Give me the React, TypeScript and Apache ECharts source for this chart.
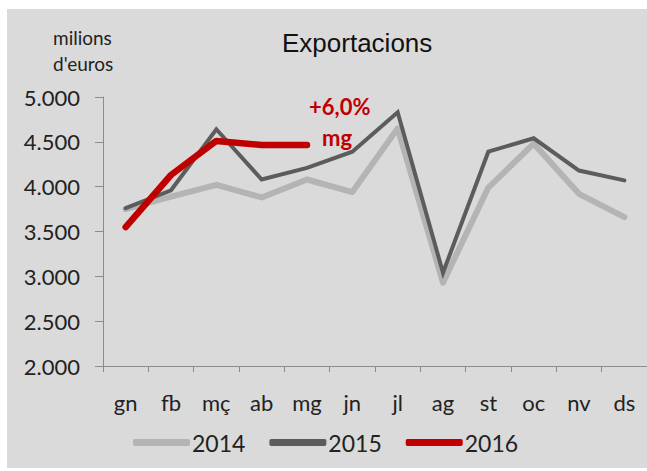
import React, { useEffect, useRef } from "react";
import * as echarts from "echarts";

const months = ["gn", "fb", "mç", "ab", "mg", "jn", "jl", "ag", "st", "oc", "nv", "ds"];
const s2014 = [3750, 3890, 4020, 3880, 4080, 3940, 4650, 2930, 3990, 4480, 3920, 3660];
const s2015 = [3760, 3960, 4640, 4080, 4210, 4390, 4830, 3040, 4390, 4540, 4180, 4070];
const s2016 = [3550, 4130, 4510, 4465, 4465];
const seriesNames = ["2014", "2015", "2016"];
const colors = ["#b4b4b4", "#5c5c5c", "#c00000"];

const fmt = (v: number) => {
  const s = String(Math.round(v));
  return s.replace(/\B(?=(\d{3})+(?!\d))/g, ".");
};

export default function App() {
  const ref = useRef<HTMLDivElement>(null);
  useEffect(() => {
    if (!ref.current) return;
    const chart = echarts.init(ref.current, undefined, { renderer: "svg" });
    const font = "Lato, 'Open Sans', sans-serif";
    chart.setOption({
      animation: false,
      backgroundColor: "#ffffff",
      graphic: [
        { type: "rect", z: -10, shape: { x: 7, y: 9, width: 640, height: 459 }, style: { fill: "#dadada" } },
        { type: "text", left: 282, top: 30, style: { text: "Exportacions", font: "26px 'Liberation Sans', Arial, sans-serif", fill: "#111" } },
        { type: "text", left: 53, top: 28, style: { text: "milions", font: "19px " + font, fill: "#222" } },
        { type: "text", left: 53, top: 54, style: { text: "d'euros", font: "19px " + font, fill: "#222" } },
        { type: "text", left: 309, top: 95, z: 100, style: { text: "+6,0%", font: "bold 22px " + font, fill: "#c00000" } },
        { type: "text", left: 322, top: 126, z: 100, style: { text: "mg", font: "bold 22px " + font, fill: "#c00000" } },
      ],
      grid: { left: 103, top: 97, width: 547, height: 269, containLabel: false },
      legend: {
        data: seriesNames,
        left: 128,
        top: 426,
        itemWidth: 57,
        itemHeight: 7,
        itemGap: 24,
        icon: "roundRect",
        textStyle: { fontSize: 23, fontFamily: font, color: "#222", padding: [0, 0, 0, -3] },
      },
      xAxis: {
        type: "category",
        data: months,
        boundaryGap: true,
        axisLine: { lineStyle: { color: "#8c8c8c", width: 1 } },
        axisTick: { show: true, length: 6, lineStyle: { color: "#8c8c8c" } },
        axisLabel: { fontSize: 22, fontFamily: font, color: "#222", margin: 25 },
        splitLine: { show: false },
      },
      yAxis: {
        type: "value",
        min: 2000,
        max: 5000,
        interval: 500,
        axisLine: { show: true, lineStyle: { color: "#8c8c8c", width: 1 } },
        axisTick: { show: true, length: 8, lineStyle: { color: "#8c8c8c" } },
        axisLabel: { fontSize: 22, fontFamily: font, color: "#222", margin: 23, formatter: fmt },
        splitLine: { lineStyle: { color: "#d9d9d9", width: 1 } },
      },
      series: [
        {
          name: "2014", type: "line", data: s2014, showSymbol: false, symbol: "none",
          color: colors[0], lineStyle: { color: colors[0], width: 6, cap: "round", join: "round" },
        },
        {
          name: "2015", type: "line", data: s2015, showSymbol: false, symbol: "none",
          color: colors[1], lineStyle: { color: colors[1], width: 4, cap: "round", join: "miter" },
        },
        {
          name: "2016", type: "line", data: s2016, showSymbol: false, symbol: "none",
          color: colors[2], lineStyle: { color: colors[2], width: 6.5, cap: "round", join: "round" },
        },
      ],
    });
    return () => chart.dispose();
  }, []);
  return <div ref={ref} style={{ position: "fixed", left: 0, top: 0, width: 647, height: 471 }} />;
}
